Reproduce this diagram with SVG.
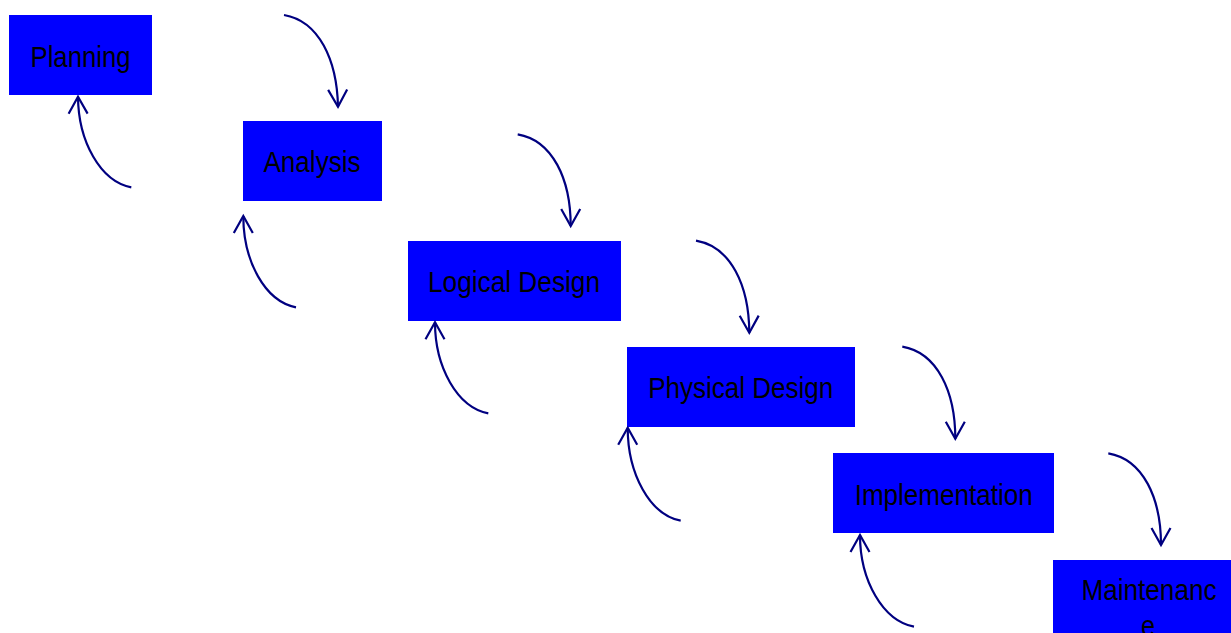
<svg xmlns="http://www.w3.org/2000/svg" width="1231" height="633" viewBox="0 0 1231 633">
<style>
.box{fill:#0000FF;stroke:none}
.lbl{font-family:"Liberation Sans",Arial,sans-serif;font-size:30px;fill:#000000;text-anchor:middle}
.conn{fill:none;stroke:#000080;stroke-width:2.2}
</style>
<defs>
<marker id="ah" markerUnits="userSpaceOnUse" markerWidth="40" markerHeight="40" viewBox="-20 -20 40 40" refX="0" refY="0" orient="auto" overflow="visible">
<path d="M-17,-9.5 L0,0 L-17,9.5" fill="none" stroke="#000080" stroke-width="2.2"/>
</marker>
</defs>
<rect width="1231" height="633" fill="#FFFFFF"/>
<g id="planning">
<rect class="box" x="9" y="15" width="143" height="80"/>
<text class="lbl" x="80.5" y="66.5" textLength="100" lengthAdjust="spacingAndGlyphs">Planning</text>
</g>
<g id="analysis">
<rect class="box" x="243" y="121" width="139" height="80"/>
<text class="lbl" x="312" y="172.3" textLength="97" lengthAdjust="spacingAndGlyphs">Analysis</text>
</g>
<g id="logical-design">
<rect class="box" x="408" y="241" width="213" height="80"/>
<text class="lbl" x="514" y="291.7" textLength="172" lengthAdjust="spacingAndGlyphs">Logical Design</text>
</g>
<g id="physical-design">
<rect class="box" x="627" y="347" width="228" height="80"/>
<text class="lbl" x="740.7" y="398.3" textLength="185" lengthAdjust="spacingAndGlyphs">Physical Design</text>
</g>
<g id="implementation">
<rect class="box" x="833" y="453" width="221" height="80"/>
<text class="lbl" x="943.7" y="505" textLength="178" lengthAdjust="spacingAndGlyphs">Implementation</text>
</g>
<g id="maintenance">
<rect class="box" x="1053" y="560" width="191" height="80"/>
<text class="lbl" x="1149" y="600" textLength="135" lengthAdjust="spacingAndGlyphs">Maintenanc</text>
<text class="lbl" x="1148" y="636" textLength="14" lengthAdjust="spacingAndGlyphs">e</text>
</g>
<g id="connectors">
<path class="conn" marker-end="url(#ah)" d="M284,15 c35,6 53,45 54,91.7"/>
<path class="conn" marker-end="url(#ah)" d="M517.7,134.3 c35,6 53,45 53,91.7"/>
<path class="conn" marker-end="url(#ah)" d="M696,240.7 c35,6 53,45 53.3,92"/>
<path class="conn" marker-end="url(#ah)" d="M902.3,346.7 c35,6 53,45 53,92"/>
<path class="conn" marker-end="url(#ah)" d="M1108.3,453.3 c35,6 52.7,45 52.7,91.7"/>
<path class="conn" marker-end="url(#ah)" d="M131.3,187.3 c-31,-6 -53,-46 -53.3,-90.6"/>
<path class="conn" marker-end="url(#ah)" d="M296,307.3 c-31,-6 -52.7,-46 -52.7,-91.3"/>
<path class="conn" marker-end="url(#ah)" d="M488.3,413.3 c-31,-6 -53.3,-46 -53.3,-91"/>
<path class="conn" marker-end="url(#ah)" d="M680.7,520.7 c-31,-6 -53,-47 -53,-93"/>
<path class="conn" marker-end="url(#ah)" d="M914,626.7 c-31,-6 -54,-46 -54,-91.7"/>
</g>
</svg>
